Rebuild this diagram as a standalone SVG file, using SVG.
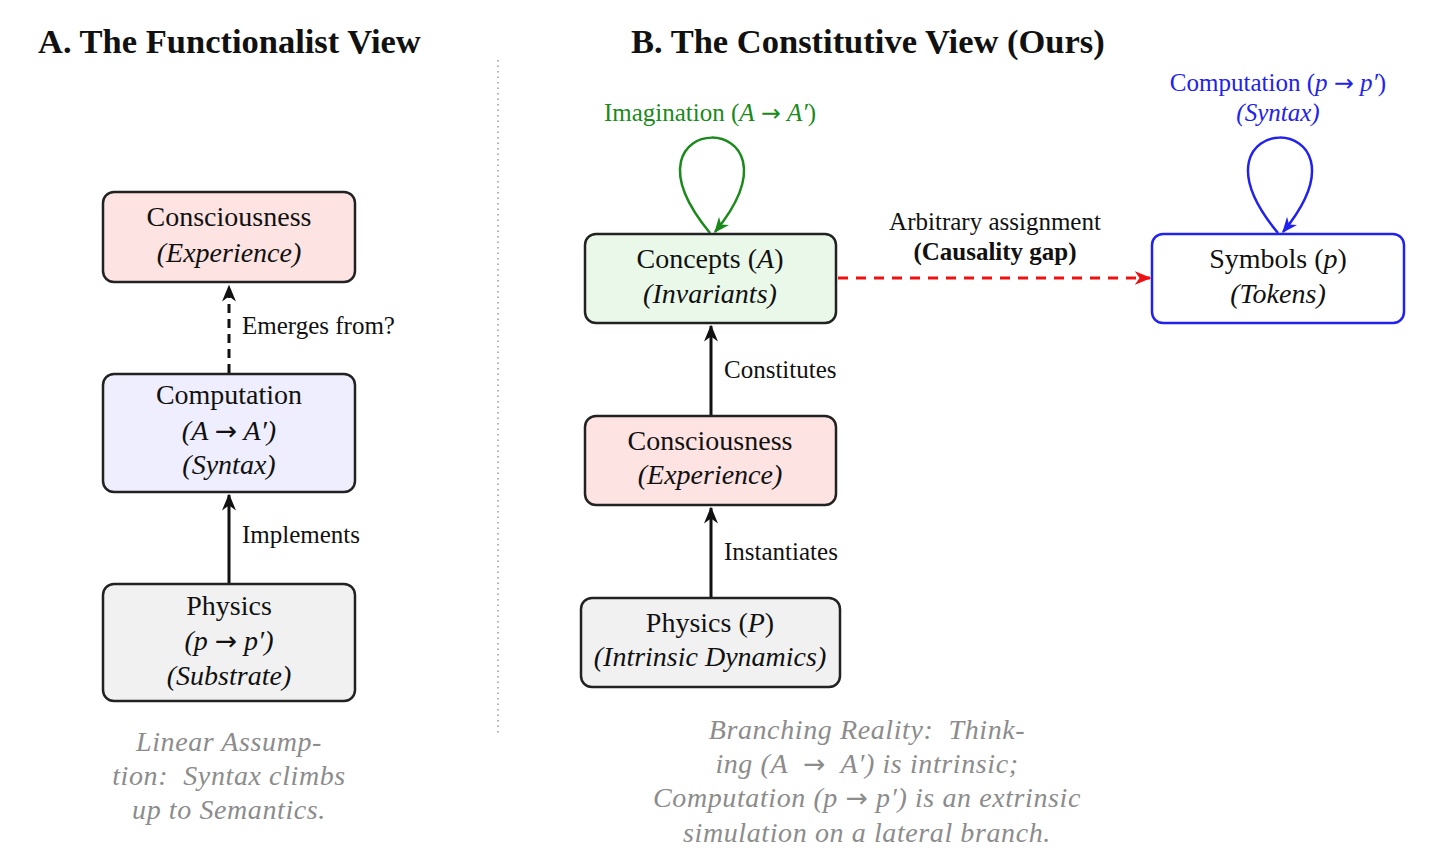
<svg xmlns="http://www.w3.org/2000/svg" width="1439" height="864" viewBox="0 0 1439 864">
<style>
text{font-family:"Liberation Serif","Times New Roman",serif;fill:#111}
.title{font-size:34.5px;font-weight:bold}
.nt{font-size:28px;text-anchor:middle}
.it{font-style:italic}
.ar{font-family:"DejaVu Sans",sans-serif;font-style:normal;font-size:0.95em}
.lbl{font-size:25px}
.cap{font-size:28px;font-style:italic;fill:#8c8c8c;text-anchor:middle;letter-spacing:0.6px}
.box{stroke:#222;stroke-width:2.5}
.edge{fill:none;stroke:#111;stroke-width:3}
</style>
<defs>
<marker id="ah" viewBox="0 0 12 10" refX="11" refY="5" markerWidth="17" markerHeight="14" markerUnits="userSpaceOnUse" orient="auto"><path d="M0,0 L12,5 L0,10 L3.5,5 z" fill="#111"/></marker>
<marker id="ahr" viewBox="0 0 12 10" refX="11" refY="5" markerWidth="17" markerHeight="14" markerUnits="userSpaceOnUse" orient="auto"><path d="M0,0 L12,5 L0,10 L3.5,5 z" fill="#ee1111"/></marker>
<marker id="ahg" viewBox="0 0 12 10" refX="11" refY="5" markerWidth="16" markerHeight="13" markerUnits="userSpaceOnUse" orient="auto"><path d="M0,0 L12,5 L0,10 L3.5,5 z" fill="#1a8a1a"/></marker>
<marker id="ahb" viewBox="0 0 12 10" refX="11" refY="5" markerWidth="16" markerHeight="13" markerUnits="userSpaceOnUse" orient="auto"><path d="M0,0 L12,5 L0,10 L3.5,5 z" fill="#2222ee"/></marker>
</defs>
<rect width="1439" height="864" fill="#fff"/>

<text class="title" x="38" y="53">A. The Functionalist View</text>
<text class="title" x="631" y="53">B. The Constitutive View (Ours)</text>
<line x1="498" y1="60" x2="498" y2="733" stroke="#999" stroke-width="1.5" stroke-dasharray="1.5,4"/>

<g id="connectors">
<line class="edge" x1="229" y1="373" x2="229" y2="286" stroke-dasharray="9,6" marker-end="url(#ah)"/>
<line class="edge" x1="229" y1="583" x2="229" y2="495" marker-end="url(#ah)"/>
<line class="edge" x1="711" y1="415" x2="711" y2="326" marker-end="url(#ah)"/>
<line class="edge" x1="711" y1="597" x2="711" y2="508" marker-end="url(#ah)"/>
<line x1="838" y1="278" x2="1150" y2="278" stroke="#ee1111" stroke-width="3" stroke-dasharray="10,8" marker-end="url(#ahr)"/>
<path d="M710,233 C605,106 818,106 715,232" fill="none" stroke="#1a8a1a" stroke-width="2.5" marker-end="url(#ahg)"/>
<path d="M1278,233 C1173,106 1386,106 1283,232" fill="none" stroke="#2222ee" stroke-width="2.5" marker-end="url(#ahb)"/>
<text class="lbl" x="242" y="334">Emerges from?</text>
<text class="lbl" x="242" y="543">Implements</text>
<text class="lbl" x="724" y="378">Constitutes</text>
<text class="lbl" x="724" y="560">Instantiates</text>
<text class="lbl" x="995" y="230" text-anchor="middle">Arbitrary assignment</text>
<text class="lbl" x="995" y="260" text-anchor="middle" font-weight="bold">(Causality gap)</text>
<text class="lbl" x="710" y="121" text-anchor="middle" style="fill:#1a8a1a" xml:space="preserve">Imagination (<tspan class="it" style="fill:#1a8a1a">A</tspan> <tspan class="ar" style="fill:#1a8a1a">→</tspan> <tspan class="it" style="fill:#1a8a1a">A′</tspan>)</text>
<text class="lbl" x="1278" y="91" text-anchor="middle" style="fill:#2222ee" xml:space="preserve">Computation (<tspan class="it" style="fill:#2222ee">p</tspan> <tspan class="ar" style="fill:#2222ee">→</tspan> <tspan class="it" style="fill:#2222ee">p′</tspan>)</text>
<text class="lbl it" x="1278" y="121" text-anchor="middle" style="fill:#2222ee">(Syntax)</text>
</g>

<g id="a-consciousness">
<rect class="box" x="103" y="192" width="252" height="90" rx="11" fill="#fde3e2"/>
<text class="nt" x="229" y="226">Consciousness</text>
<text class="nt it" x="229" y="262">(Experience)</text>
</g>
<g id="a-computation">
<rect class="box" x="103" y="374" width="252" height="118" rx="11" fill="#eeeefe"/>
<text class="nt" x="229" y="404">Computation</text>
<text class="nt it" x="229" y="440" xml:space="preserve">(A <tspan class="ar">→</tspan> A′)</text>
<text class="nt it" x="229" y="474">(Syntax)</text>
</g>
<g id="a-physics">
<rect class="box" x="103" y="584" width="252" height="117" rx="11" fill="#f1f1f1"/>
<text class="nt" x="229" y="615">Physics</text>
<text class="nt it" x="229" y="650" xml:space="preserve">(p <tspan class="ar">→</tspan> p′)</text>
<text class="nt it" x="229" y="685">(Substrate)</text>
</g>
<g id="a-caption">
<text class="cap" x="229" y="751">Linear Assump-</text>
<text class="cap" x="229" y="785" xml:space="preserve">tion:  Syntax climbs</text>
<text class="cap" x="229" y="819">up to Semantics.</text>
</g>

<g id="b-concepts">
<rect class="box" x="585" y="234" width="251" height="89" rx="11" fill="#e9f8e9"/>
<text class="nt" x="710" y="268">Concepts (<tspan class="it">A</tspan>)</text>
<text class="nt it" x="710" y="303">(Invariants)</text>
</g>
<g id="b-consciousness">
<rect class="box" x="585" y="416" width="251" height="89" rx="11" fill="#fde3e2"/>
<text class="nt" x="710" y="450">Consciousness</text>
<text class="nt it" x="710" y="484">(Experience)</text>
</g>
<g id="b-physics">
<rect class="box" x="581" y="598" width="259" height="89" rx="11" fill="#f1f1f1"/>
<text class="nt" x="710" y="632">Physics (<tspan class="it">P</tspan>)</text>
<text class="nt it" x="710" y="666">(Intrinsic Dynamics)</text>
</g>
<g id="b-symbols">
<rect x="1152" y="234" width="252" height="89" rx="11" fill="#fff" stroke="#2222ee" stroke-width="2.5"/>
<text class="nt" x="1278" y="268">Symbols (<tspan class="it">p</tspan>)</text>
<text class="nt it" x="1278" y="303">(Tokens)</text>
</g>
<g id="b-caption">
<text class="cap" x="867" y="739" xml:space="preserve">Branching Reality:  Think-</text>
<text class="cap" x="867" y="773" xml:space="preserve">ing (A  <tspan class="ar">→</tspan>  A′) is intrinsic;</text>
<text class="cap" x="867" y="807" xml:space="preserve">Computation (p <tspan class="ar">→</tspan> p′) is an extrinsic</text>
<text class="cap" x="867" y="842">simulation on a lateral branch.</text>
</g>
</svg>
